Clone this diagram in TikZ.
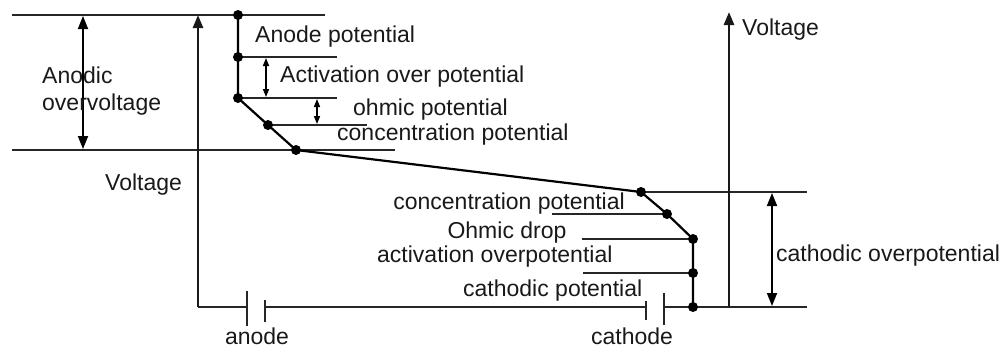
\documentclass[tikz,border=0pt]{standalone}
\usepackage{fontspec}
\setmainfont{Liberation Sans}
\usetikzlibrary{arrows.meta}
\begin{document}
\begin{tikzpicture}[x=1pt,y=-1pt,
  ln/.style={line width=1.8pt,draw=black!85},
  axis/.style={line width=2.6pt,draw=black!90,-{Triangle[length=13pt,width=10pt]}},
  dbl/.style={line width=1.8pt,{Triangle[length=13pt,width=10pt]}-{Triangle[length=13pt,width=10pt]}},
  sdbl/.style={line width=1.5pt,{Triangle[length=8pt,width=6pt]}-{Triangle[length=8pt,width=6pt]}},
  lbl/.style={font=\fontsize{23}{27}\selectfont,inner sep=0pt,text=black!90},
  dot/.style={circle,fill=black,inner sep=0pt,minimum size=10pt}]
\useasboundingbox (0,0) rectangle (1005,348);
% named points
\coordinate (a1) at (238,15);
\coordinate (a2) at (238,57);
\coordinate (a3) at (238,98);
\coordinate (a4) at (268,125);
\coordinate (a5) at (296,150);
\coordinate (c1) at (641,192);
\coordinate (c2) at (667,214);
\coordinate (c3) at (693,239);
\coordinate (c4) at (693,273);
\coordinate (c5) at (693,307);
% reference lines
\coordinate (t0) at (12,15); \coordinate (t1) at (325,15);
\coordinate (m0) at (12,150); \coordinate (m1) at (395,150);
\coordinate (l2) at (337,57); \coordinate (l3) at (337,98); \coordinate (l4) at (367,125);
\coordinate (r1) at (807,192);
\coordinate (k2) at (552,214); \coordinate (k3) at (582,239); \coordinate (k4) at (583,273);
\coordinate (r5) at (807,307);
\draw[ln] (t0) -- (t1);
\draw[ln] (m0) -- (m1);
\draw[ln] (a2) -- (l2);
\draw[ln] (a3) -- (l3);
\draw[ln] (a4) -- (l4);
\draw[ln] (c1) -- (r1);
\draw[ln] (k2) -- (c2);
\draw[ln] (k3) -- (c3);
\draw[ln] (k4) -- (c4);
% electrode potential curve
\draw[line width=2.2pt] (a1) -- (a2) -- (a3) -- (a4) -- (a5) -- (c1) -- (c2) -- (c3) -- (c4) -- (c5);
% circuit
\coordinate (v0) at (198,307);
\coordinate (v1) at (198,15);
\coordinate (ap1) at (247,307); \coordinate (ap2) at (265,307);
\coordinate (cp1) at (646,307); \coordinate (cp2) at (664,307);
\draw[ln,line width=2.2pt] (ap1) -- (v0);
\draw[axis] (v0) -- (v1);
\draw[ln,line width=2.2pt] (ap2) -- (cp1);
\draw[ln,line width=2.2pt] (cp2) -- (c5) -- (r5);
\draw[ln] (247,291) -- (247,326);
\draw[ln] (265,300) -- (265,322);
\draw[ln] (646,301) -- (646,320);
\draw[ln] (664,293) -- (664,325);
% right axis
\coordinate (w0) at (729,307); \coordinate (w1) at (729,12);
\draw[axis] (w0) -- (w1);
% double arrows
\coordinate (d1a) at (83,16); \coordinate (d1b) at (83,149);
\draw[dbl] (d1a) -- (d1b);
\coordinate (d2a) at (266,58); \coordinate (d2b) at (266,97);
\draw[sdbl] (d2a) -- (d2b);
\coordinate (d3a) at (317,99); \coordinate (d3b) at (317,124);
\draw[sdbl] (d3a) -- (d3b);
\coordinate (d4a) at (772,193); \coordinate (d4b) at (772,306);
\draw[dbl] (d4a) -- (d4b);
% dots
\foreach \p in {a1,a2,a3,a4,a5,c1,c2,c3,c4,c5} \node[dot] (n\p) at (\p) {};
% labels
\node[lbl,anchor=base west] (t1l) at (255,42) {Anode potential};
\node[lbl,anchor=base west] (t2l) at (280,82) {Activation over potential};
\node[lbl,anchor=base west] (t3l) at (353,115) {ohmic potential};
\node[lbl,anchor=base west] (t4l) at (337,140) {concentration potential};
\node[lbl,anchor=base west] (t5l) at (42,83) {Anodic};
\node[lbl,anchor=base west] (t6l) at (42,110) {overvoltage};
\node[lbl,anchor=base west] (t7l) at (105,190) {Voltage};
\node[lbl,anchor=base west] (t8l) at (742,35) {Voltage};
\node[lbl,anchor=base east] (t9l) at (625,209) {concentration potential};
\node[lbl,anchor=base] (t10l) at (507,238) {Ohmic drop};
\node[lbl,anchor=base west] (t11l) at (377,262) {activation overpotential};
\node[lbl,anchor=base west] (t12l) at (463,296) {cathodic potential};
\node[lbl,anchor=base] (t13l) at (257,344) {anode};
\node[lbl,anchor=base] (t14l) at (632,344) {cathode};
\node[lbl,anchor=base west] (t15l) at (776,261) {cathodic overpotential};
\end{tikzpicture}
\end{document}
